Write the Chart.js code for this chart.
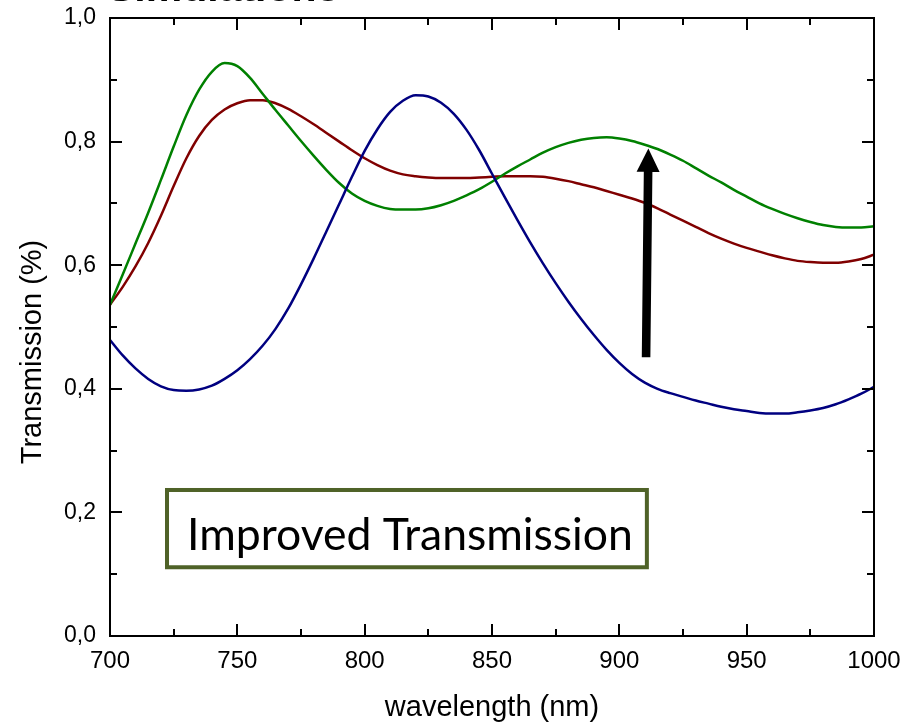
<!DOCTYPE html>
<html>
<head>
<meta charset="utf-8">
<script src="https://cdn.jsdelivr.net/npm/chart.js@4.4.1/dist/chart.umd.min.js"></script>
<style>
    html, body { margin: 0; padding: 0; background: #fff; }
    #wrap { width: 904px; height: 725px; position: relative; }
</style>
</head>
<body>
<div id="wrap"><canvas id="transChart"></canvas></div>
<script>
// ---------------- Data ----------------
const wavelengths = [700,705,710,715,720,725,730,735,740,745,750,755,760,765,770,775,780,785,790,795,
    800,805,810,815,820,825,830,835,840,845,850,855,860,865,870,875,880,885,890,895,
    900,905,910,915,920,925,930,935,940,945,950,955,960,965,970,975,980,985,990,995,1000];

const blueSeries = [0.479,0.454,0.433,0.416,0.404,0.398,0.397,0.399,0.405,0.416,0.430,0.448,0.470,0.497,0.530,0.569,0.611,0.655,0.699,0.743,
    0.785,0.820,0.848,0.866,0.875,0.873,0.863,0.845,0.819,0.786,0.748,0.710,0.673,0.637,0.603,0.571,0.541,0.513,0.487,0.463,
    0.442,0.424,0.410,0.400,0.393,0.387,0.381,0.376,0.371,0.367,0.364,0.361,0.360,0.360,0.362,0.365,0.369,0.375,0.383,0.392,0.403];

const greenSeries = [0.536,0.585,0.635,0.685,0.738,0.792,0.843,0.884,0.913,0.927,0.922,0.903,0.877,0.851,0.826,0.801,0.777,0.754,0.733,0.716,
    0.704,0.696,0.691,0.690,0.690,0.692,0.697,0.704,0.713,0.723,0.735,0.748,0.760,0.771,0.782,0.791,0.798,0.803,0.806,0.807,
    0.805,0.801,0.795,0.788,0.779,0.769,0.757,0.745,0.734,0.722,0.711,0.700,0.691,0.683,0.676,0.670,0.665,0.662,0.661,0.661,0.663];

const redSeries = [0.536,0.565,0.598,0.636,0.680,0.728,0.773,0.809,0.835,0.852,0.862,0.867,0.867,0.862,0.853,0.841,0.828,0.814,0.800,0.786,
    0.773,0.762,0.753,0.747,0.744,0.742,0.741,0.741,0.741,0.742,0.743,0.744,0.744,0.744,0.743,0.740,0.736,0.731,0.726,0.720,
    0.714,0.708,0.701,0.692,0.682,0.672,0.662,0.652,0.643,0.635,0.628,0.622,0.616,0.611,0.607,0.605,0.604,0.604,0.606,0.610,0.617];

const xTicks = [700, 750, 800, 850, 900, 950, 1000];
const yTicks = [0, 0.2, 0.4, 0.6, 0.8, 1.0];

// annotations in data units
const arrowFrom = { x: 910.5, y: 0.451 };
const arrowTo = { x: 911.4, y: 0.789 };
const noteBox = { x0: 721.6, x1: 911.6, y0: 0.108, y1: 0.2395 };
const noteText = 'Improved Transmission';

const AXIS_FONT = '"Liberation Sans", Arial, sans-serif';

function toPoints(series) {
    return wavelengths.map((w, i) => ({ x: w, y: series[i] }));
}

// ---------------- Frame, ticks, arrow, box ----------------
const decorPlugin = {
    id: 'decor',
    afterDatasetsDraw(chart) {
        const { ctx, chartArea: a, scales: { x, y } } = chart;
        ctx.save();

        // inside ticks on all four sides
        ctx.strokeStyle = '#000';
        ctx.lineWidth = 2;
        ctx.beginPath();
        for (let v = 700; v <= 1000; v += 25) {
            const px = Math.round(x.getPixelForValue(v));
            const len = (v % 50 === 0) ? 12 : 7;
            ctx.moveTo(px, a.bottom); ctx.lineTo(px, a.bottom - len);
            ctx.moveTo(px, a.top); ctx.lineTo(px, a.top + len);
        }
        for (let k = 0; k <= 10; k++) {
            const py = Math.round(y.getPixelForValue(k / 10));
            const len = (k % 2 === 0) ? 12 : 7;
            ctx.moveTo(a.left, py); ctx.lineTo(a.left + len, py);
            ctx.moveTo(a.right, py); ctx.lineTo(a.right - len, py);
        }
        ctx.stroke();
        ctx.strokeRect(a.left, a.top, a.right - a.left, a.bottom - a.top);

        // arrow
        const bx = x.getPixelForValue(arrowFrom.x), by = y.getPixelForValue(arrowFrom.y);
        const tx = x.getPixelForValue(arrowTo.x), ty = y.getPixelForValue(arrowTo.y);
        const dx = tx - bx, dy = ty - by, L = Math.hypot(dx, dy);
        const ux = dx / L, uy = dy / L, nx = -uy, ny = ux;
        const headLen = 23.5, headW = 11.5, shaftW = 4.3;
        const hx = tx - ux * headLen, hy = ty - uy * headLen;
        ctx.fillStyle = '#000';
        ctx.beginPath();
        ctx.moveTo(bx + nx * shaftW, by + ny * shaftW);
        ctx.lineTo(hx + nx * shaftW, hy + ny * shaftW);
        ctx.lineTo(hx + nx * headW, hy + ny * headW);
        ctx.lineTo(tx, ty);
        ctx.lineTo(hx - nx * headW, hy - ny * headW);
        ctx.lineTo(hx - nx * shaftW, hy - ny * shaftW);
        ctx.lineTo(bx - nx * shaftW, by - ny * shaftW);
        ctx.closePath();
        ctx.fill();

        // text box
        const l = x.getPixelForValue(noteBox.x0), r = x.getPixelForValue(noteBox.x1);
        const t = y.getPixelForValue(noteBox.y1), b = y.getPixelForValue(noteBox.y0);
        ctx.fillStyle = '#fff';
        ctx.fillRect(l, t, r - l, b - t);
        ctx.strokeStyle = '#4F6228';
        ctx.lineWidth = 4;
        ctx.strokeRect(l + 2, t + 2, r - l - 4, b - t - 4);

        let size = 40;
        ctx.font = size + 'px Lato, "Open Sans", sans-serif';
        size = size * 446 / ctx.measureText(noteText).width;
        ctx.font = size.toFixed(1) + 'px Lato, "Open Sans", sans-serif';
        ctx.fillStyle = '#000';
        ctx.textAlign = 'center';
        ctx.textBaseline = 'alphabetic';
        ctx.fillText(noteText, (l + r) / 2 + 3, b - 19);

        ctx.restore();
    },
    afterDraw(chart) {
        const { ctx } = chart;
        ctx.save();
        ctx.fillStyle = '#000';

        // y axis title (sits a bit below the axis centre)
        ctx.font = '29px ' + AXIS_FONT;
        ctx.translate(40.5, 352);
        ctx.rotate(-Math.PI / 2);
        ctx.textAlign = 'center';
        ctx.textBaseline = 'alphabetic';
        ctx.fillText('Transmission (%)', 0, 0);
        ctx.setTransform(1, 0, 0, 1, 0, 0);

        // heading, mostly cut off by the top edge
        ctx.font = 'bold 41px ' + AXIS_FONT;
        ctx.textAlign = 'left';
        ctx.fillText('Simulations', 107, 1);
        ctx.restore();
    }
};

// ---------------- Chart ----------------
const ctx = document.getElementById('transChart').getContext('2d');
new Chart(ctx, {
    type: 'line',
    data: {
        datasets: [
            { label: 'blue', data: toPoints(blueSeries), borderColor: '#000080' },
            { label: 'green', data: toPoints(greenSeries), borderColor: '#008000' },
            { label: 'red', data: toPoints(redSeries), borderColor: '#800000' }
        ]
    },
    options: {
        animation: false,
        responsive: true,
        maintainAspectRatio: false,
        layout: { padding: { top: 18, right: 30, left: 0, bottom: 0 } },
        elements: {
            point: { radius: 0 },
            line: { borderWidth: 2.5, cubicInterpolationMode: 'monotone', fill: false }
        },
        scales: {
            x: {
                type: 'linear',
                min: 700,
                max: 1000,
                afterFit: (s) => { s.height = 89; },
                afterBuildTicks: (s) => { s.ticks = xTicks.map(v => ({ value: v })); },
                grid: { display: false, drawTicks: true, tickLength: 11 },
                border: { display: false },
                ticks: {
                    padding: 0,
                    color: '#000',
                    maxRotation: 0,
                    font: { family: AXIS_FONT, size: 24 },
                    callback: (v) => String(v)
                },
                title: {
                    display: true,
                    text: 'wavelength (nm)',
                    color: '#000',
                    font: { family: AXIS_FONT, size: 29, lineHeight: 1 },
                    padding: { top: 0, bottom: 3 }
                }
            },
            y: {
                min: 0,
                max: 1,
                afterFit: (s) => { s.width = 110; },
                afterBuildTicks: (s) => { s.ticks = yTicks.map(v => ({ value: v })); },
                grid: { display: false, drawTicks: true, tickLength: 14 },
                border: { display: false },
                ticks: {
                    padding: 0,
                    color: '#000',
                    font: { family: AXIS_FONT, size: 23 },
                    callback: (v) => Number(v).toFixed(1).replace('.', ',')
                }
            }
        },
        plugins: {
            legend: { display: false },
            tooltip: { enabled: false }
        }
    },
    plugins: [decorPlugin]
});
</script>
</body>
</html>
